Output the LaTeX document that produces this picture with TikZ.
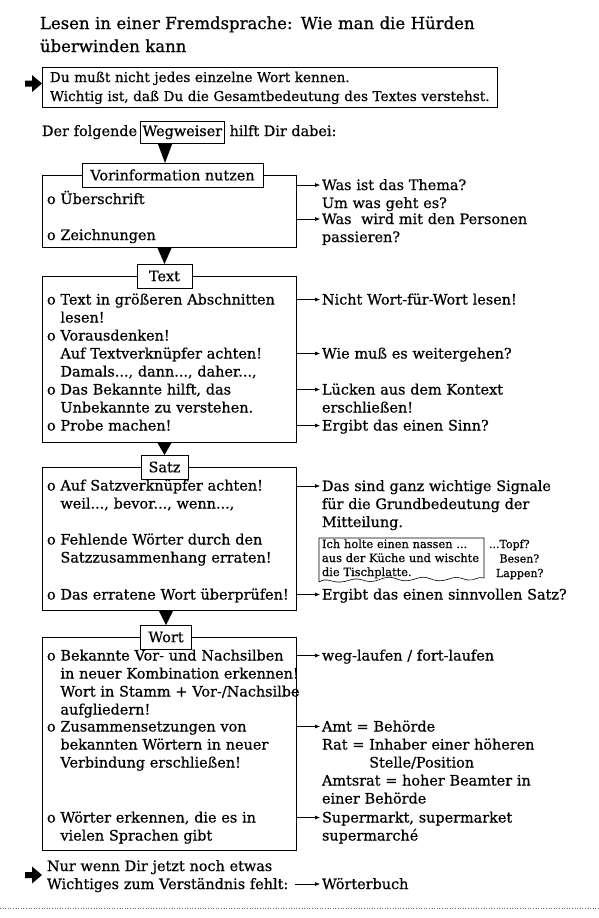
\documentclass[tikz,border=0pt]{standalone}
\usepackage{fontspec}
\setmainfont{DejaVu Serif}[FakeBold=0.6]
\usetikzlibrary{arrows.meta,calc}
\newcommand\oind{\hphantom{o\ }}
\begin{document}
\begin{tikzpicture}[x=1pt,y=-1pt,
  every node/.style={inner sep=0pt, outer sep=0pt},
  bfont/.style={font=\fontsize{14.4}{18}\selectfont},
  body/.style={bfont, anchor=base west, align=left, text width=#1},
  body/.default=300,
  frm/.style={draw, line width=0.7pt},
  lbl/.style={draw, fill=white, line width=0.7pt, bfont, minimum height=24pt},
  arr/.style={-{Latex[length=5pt,width=4pt]}, line width=0.6pt},
  tri/.style={fill=black},
  fat/.style={fill=black},
]
\useasboundingbox (0,0) rectangle (599,918);

% title
\node[anchor=base west, font=\fontsize{16.5}{23}\selectfont, align=left, text width=560] (title) at (40,29)
  {Lesen in einer Fremdsprache: Wie man die Hürden\\überwinden kann};

% first box
\node[frm, anchor=north west, minimum width=455pt, minimum height=40pt] (b1) at (42,67) {};
\node[anchor=base west, font=\fontsize{13.6}{19}\selectfont, align=left, text width=480] (b1t) at (50,82) {Du mußt nicht jedes einzelne Wort kennen.\\Wichtig ist, daß Du die Gesamtbedeutung des Textes verstehst.};
\fill[fat] (25,80.5) -- (32,80.5) -- (32,75) -- (42,83.5) -- (32,92) -- (32,86.5) -- (25,86.5) -- cycle;

% Wegweiser line
\node[body] (df) at (42,136) {Der folgende};
\node[draw, line width=0.7pt, bfont, inner xsep=2.5pt, inner ysep=3.8pt, anchor=base west] (wg) at (140,136) {Wegweiser};
\node[bfont, anchor=base west] (hd) at ($(wg.base east)+(5,0)$) {hilft Dir dabei:};

% Vorinformation
\node[frm, anchor=north west, minimum width=254pt, minimum height=72pt] (vf) at (42,175) {};
\node[lbl, minimum width=181pt] (vl) at (172.5,175) {Vorinformation nutzen};
\coordinate (tx) at (165,0);
\fill[tri] ($(wg.south -| tx)+(-7.5,0)$) -- ($(wg.south -| tx)+(7.5,0)$) -- (vl.north -| tx) -- cycle;
\node[body] (v1) at (47,204) {o Überschrift};
\node[body] (v2) at (47,240) {o Zeichnungen};
\node[body=270] (vr1) at (322,190) {Was ist das Thema?\\Um was geht es?};
\node[body=270] (vr2) at (322,224) {Was\ \ wird mit den Personen\\passieren?};
\draw[arr] ($(vf.east |- vr1.base)+(0,-5)$) -- ($(vr1.base west)+(-2,-5)$);
\draw[arr] ($(vf.east |- vr2.base)+(0,-5)$) -- ($(vr2.base west)+(-2,-5)$);

% Text
\node[frm, anchor=north west, minimum width=254pt, minimum height=166pt] (tf) at (42,276) {};
\node[lbl, minimum width=55pt] (tl) at (164.5,276) {Text};
\fill[tri] ($(vf.south -| tl.north)+(-7.5,0)$) -- ($(vf.south -| tl.north)+(7.5,0)$) -- (tl.north) -- cycle;
\node[body] (t1) at (47,304.5) {o Text in größeren Abschnitten\\\oind lesen!\\o Vorausdenken!\\\oind Auf Textverknüpfer achten!\\\oind Damals..., dann..., daher...,\\o Das Bekannte hilft, das\\\oind Unbekannte zu verstehen.\\o Probe machen!};
\node[body=270] (tr1) at (322,304.5) {Nicht Wort-für-Wort lesen!};
\node[body=270] (tr2) at (322,358.5) {Wie muß es weitergehen?};
\node[body=270] (tr3) at (322,394.5) {Lücken aus dem Kontext\\erschließen!};
\node[body=270] (tr4) at (322,430.5) {Ergibt das einen Sinn?};
\foreach \n in {tr1,tr2,tr3,tr4}
  \draw[arr] ($(tf.east |- \n.base)+(0,-5)$) -- ($(\n.base west)+(-2,-5)$);

% Satz
\node[frm, anchor=north west, minimum width=254pt, minimum height=143pt] (sf) at (42,467) {};
\node[lbl, minimum width=47pt] (sl) at (164.5,467) {Satz};
\fill[tri] ($(tf.south -| sl.north)+(-7.5,0)$) -- ($(tf.south -| sl.north)+(7.5,0)$) -- (sl.north) -- cycle;
\node[body] (s1) at (47,490.5) {o Auf Satzverknüpfer achten!\\\oind weil..., bevor..., wenn...,};
\node[body] (s2) at (47,544.5) {o Fehlende Wörter durch den\\\oind Satzzusammenhang erraten!};
\node[body] (s3) at (47,599.5) {o Das erratene Wort überprüfen!};
\node[body=270] (sr1) at (322,491) {Das sind ganz wichtige Signale\\für die Grundbedeutung der\\Mitteilung.};
\node[body=270] (sr2) at (322,599.5) {Ergibt das einen sinnvollen Satz?};
\foreach \n in {sr1,sr2}
  \draw[arr] ($(sf.east |- \n.base)+(0,-5)$) -- ($(\n.base west)+(-2,-5)$);
% note
\draw[line width=0.6pt] (319,582) -- (319,538) -- (484,538) -- (484,578)
  .. controls (478,576) and (474,581) .. (468,580)
  .. controls (462,579) and (458,576) .. (452,578)
  .. controls (446,580) and (440,582) .. (434,580)
  .. controls (428,578) and (424,576) .. (418,578)
  .. controls (412,580) and (406,582) .. (400,580)
  .. controls (394,578) and (390,576) .. (384,578)
  .. controls (378,580) and (372,583) .. (366,581)
  .. controls (360,579) and (356,578) .. (350,580)
  .. controls (344,582) and (338,583) .. (332,581)
  .. controls (326,579) and (322,580) .. (319,582);
\node[anchor=base west, font=\fontsize{11.4}{14}\selectfont, align=left, text width=170] (nt) at (322,548)
  {Ich holte einen nassen ...\\aus der Küche und wischte\\die Tischplatte.};
\node[anchor=base west, font=\fontsize{11}{14.5}\selectfont, align=left, text width=60] (nq) at (489,548)
  {...Topf?\\\hphantom{...}Besen?\\\hphantom{..}Lappen?};

% Wort
\node[frm, anchor=north west, minimum width=254pt, minimum height=213pt] (wf) at (42,637) {};
\node[lbl, minimum width=51pt] (wl) at (166,637) {Wort};
\fill[tri] ($(sf.south -| wl.north)+(-7.5,0)$) -- ($(sf.south -| wl.north)+(7.5,0)$) -- (wl.north) -- cycle;
\node[body] (w1) at (47,660.5) {o Bekannte Vor- und Nachsilben\\\oind in neuer Kombination erkennen!\\\oind Wort in Stamm + Vor-/Nachsilbe\\\oind aufgliedern!};
\node[body] (w2) at (47,731.5) {o Zusammensetzungen von\\\oind bekannten Wörtern in neuer\\\oind Verbindung erschließen!};
\node[body] (w3) at (47,822.5) {o Wörter erkennen, die es in\\\oind vielen Sprachen gibt};
\node[body=270] (wr1) at (322,660.5) {weg-laufen / fort-laufen};
\node[body=270] (wr2) at (322,731.5) {Amt = Behörde\\Rat = Inhaber einer höheren\\\hphantom{Rat = }Stelle/Position\\Amtsrat = hoher Beamter in\\einer Behörde};
\node[body=270] (wr3) at (322,822.5) {Supermarkt, supermarket\\supermarché};
\foreach \n in {wr1,wr2,wr3}
  \draw[arr] ($(wf.east |- \n.base)+(0,-5)$) -- ($(\n.base west)+(-2,-5)$);

% bottom
\node[body] (nb) at (47,871) {Nur wenn Dir jetzt noch etwas\\Wichtiges zum Verständnis fehlt:};
\fill[fat] (25,872) -- (32,872) -- (32,866.5) -- (42,875) -- (32,883.5) -- (32,878) -- (25,878) -- cycle;
\node[body=200] (wb) at (322,889) {Wörterbuch};
\coordinate (fs) at (295,889);
\draw[arr] ($(fs)+(0,-5)$) -- ($(wb.base west)+(-2,-5)$);

\draw[dotted, line width=0.6pt, black!60] (0,908) -- (599,908);
\end{tikzpicture}
\end{document}
